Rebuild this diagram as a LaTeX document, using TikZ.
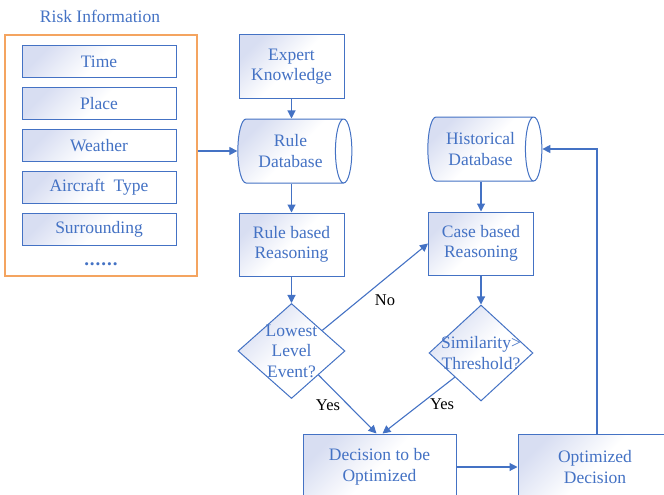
\documentclass[tikz,border=0pt]{standalone}
\usepackage{fontspec}
\setmainfont{Liberation Serif}
\newfontfamily\tnr{Liberation Serif}
\usetikzlibrary{arrows.meta,shapes.geometric,calc}
\definecolor{bl}{HTML}{4472C4}
\definecolor{orng}{HTML}{F4A460}
\definecolor{shd}{HTML}{D8DEF2}
\begin{document}
\begin{tikzpicture}[x=1pt,y=-1pt,
  every node/.style={font=\tnr\fontsize{17.5}{20.5}\selectfont, text=bl, align=center},
  shaded/.style={top color=shd, bottom color=white, middle color=white, shading angle=45},
  box/.style={draw=bl, line width=1pt, inner sep=0pt, shaded},
  cyl/.style={cylinder, draw=bl, line width=1pt, inner sep=0pt, shape border rotate=0,
    minimum height=114pt, minimum width=64pt, aspect=0.5, shaded},
  dia/.style={diamond, draw=bl, line width=1pt, inner sep=0pt, shaded},
  conn/.style={draw=bl, line width=1.1pt, -{Triangle[length=8pt,width=8pt]}},
  lbl/.style={text=black, font=\tnr\fontsize{16.5}{19}\selectfont}
]
\clip (0,0) rectangle (664,495);
% Risk information group
\node (title) at (100,16) {Risk Information};
\node[draw=orng, line width=1.1pt, minimum width=192pt, minimum height=241pt, inner sep=0pt] (risk) at (101,155.5) {};
\node[box, minimum width=154pt, minimum height=31.5pt] (time) at (99,61.5) {Time};
\node[box, minimum width=154pt, minimum height=31.5pt] (place) at (99,103.5) {Place};
\node[box, minimum width=154pt, minimum height=31.5pt] (weather) at (99,145.5) {Weather};
\node[box, minimum width=154pt, minimum height=31.5pt] (aircraft) at (99,187.5) {Aircraft\ \ Type};
\node[box, minimum width=154pt, minimum height=31.5pt] (surr) at (99,229.5) {Surrounding};
\node[font=\tnr\bfseries\fontsize{19}{20}\selectfont] (dots) at (101,264) {.\kern1pt.\kern1pt.\kern1pt.\kern1pt.\kern1pt.};
% left column
\node[box, minimum width=105pt, minimum height=63pt] (expert) at (291.5,66.5) {Expert\\Knowledge};
\node[cyl] (rdb) at (290.5,151) {Rule\\Database};
\node[box, minimum width=105pt, minimum height=63pt] (rbr) at (291.5,244.5) {Rule based\\Reasoning};
\node[dia, minimum width=107pt, minimum height=95pt] (d1) at (291.5,351) {};
\node (d1t) at (291.5,351) {Lowest\\Level\\Event?};
% right column
\node[cyl] (hdb) at (480.5,149) {Historical\\Database};
\node[box, minimum width=105pt, minimum height=63pt] (cbr) at (481,243.5) {Case based\\Reasoning};
\node[dia, minimum width=104pt, minimum height=96pt] (d2) at (481,353) {};
\node (d2t) at (481,353) {Similarity>\\Threshold?};
% bottom
\node[box, minimum width=153pt, minimum height=66pt] (dec) at (379.5,467) {Decision to be\\Optimized};
\node[box, minimum width=154pt, minimum height=66pt] (opt) at (595,467) {Optimized\\Decision};
% connectors
\draw[conn] (rdb.west -| risk.east) -- (rdb.west);
\draw[conn] (expert.south) -- (expert.south |- rdb.north);
\draw[conn] (rbr.north |- rdb.south) -- (rbr.north);
\draw[conn] (rbr) -- (d1);
\draw[conn] (cbr.north |- hdb.south) -- (cbr.north);
\draw[conn] (cbr) -- (d2);
\draw[conn] ($(d1.north)!0.57!(d1.east)$) -- (cbr.west);
\node[lbl] (no) at (385,300) {No};
\draw[conn] ($(d1.south)!0.5!(d1.east)$) -- ($(dec.north)+(-3,0)$);
\draw[conn] ($(d2.south)!0.5!(d2.west)$) -- ($(dec.north)+(3,0)$);
\node[lbl] (yes1) at (328,405) {Yes};
\node[lbl] (yes2) at (442,404) {Yes};
\draw[conn] (dec.east) -- (opt.west);
\draw[conn] ($(opt.north)+(2,0)$) |- (hdb.east);
\end{tikzpicture}
\end{document}
